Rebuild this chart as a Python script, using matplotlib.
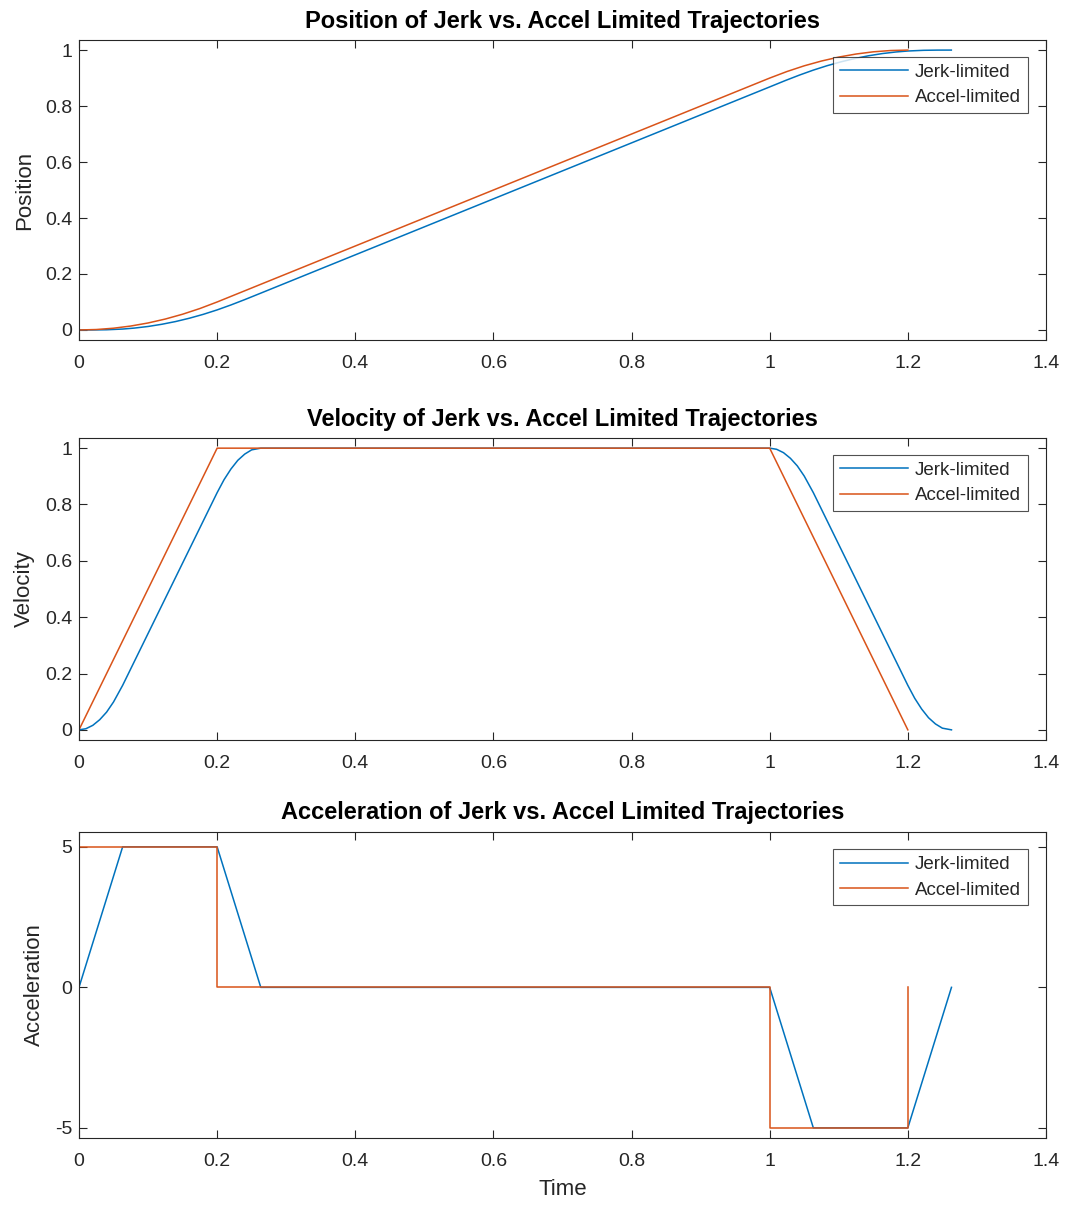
"""Jerk-limited vs accel-limited trajectory comparison (3 stacked plots)."""
import matplotlib; matplotlib.use("Agg")
import matplotlib.pyplot as plt

plt.rcParams["font.family"] = ["Liberation Sans", "DejaVu Sans"]

BLUE, ORANGE, AX = "#0072BD", "#D95319", "#262626"

# --- values ---
# jerk-limited
t_jp = [0, 0.02, 0.04, 0.0632, 0.08, 0.1, 0.12, 0.14, 0.16, 0.18, 0.2, 0.22,
        0.24, 0.2632, 1.0, 1.023, 1.043, 1.063, 1.083, 1.103, 1.123, 1.143,
        1.163, 1.183, 1.2, 1.223, 1.243, 1.263]
x_jp = [0, 0.0001, 0.0008, 0.0033, 0.0067, 0.0125, 0.0204, 0.0302, 0.0421,
        0.0559, 0.0717, 0.0894, 0.1085, 0.1316, 0.8684, 0.8915, 0.9106,
        0.9283, 0.9441, 0.9579, 0.9698, 0.9796, 0.9875, 0.9933, 0.9967,
        0.9992, 0.9999, 1.0]
t_jv = [0, 0.01, 0.02, 0.03, 0.04, 0.05, 0.0632, 0.2, 0.21, 0.22, 0.23,
        0.24, 0.25, 0.2632, 1.0, 1.01, 1.02, 1.03, 1.04, 1.05, 1.0632,
        1.2, 1.21, 1.22, 1.23, 1.24, 1.25, 1.2632]
v_jv = [0, 0.004, 0.016, 0.036, 0.063, 0.099, 0.158, 0.842, 0.888, 0.926,
        0.957, 0.979, 0.994, 1.0, 1.0, 0.996, 0.984, 0.964, 0.937, 0.901,
        0.842, 0.158, 0.112, 0.074, 0.043, 0.021, 0.006, 0]
t_ja = [0, 0.0632, 0.2, 0.2632, 1.0, 1.0632, 1.2, 1.2632]
a_ja = [0, 5, 5, 0, 0, -5, -5, 0]

# accel-limited
t_ap = [0, 0.025, 0.05, 0.075, 0.1, 0.125, 0.15, 0.175, 0.2, 1.0, 1.025,
        1.05, 1.075, 1.1, 1.125, 1.15, 1.175, 1.2]
x_ap = [0, 0.0016, 0.0063, 0.0141, 0.025, 0.0391, 0.0563, 0.0766, 0.1, 0.9,
        0.9234, 0.9438, 0.9609, 0.975, 0.9859, 0.9938, 0.9984, 1.0]
t_av = [0, 0.2, 1.0, 1.2]
v_av = [0, 1, 1, 0]
t_aa = [0, 0, 0.2, 0.2, 1.0, 1.0, 1.2, 1.2]
a_aa = [0, 5, 5, 0, 0, -5, -5, 0]

panels = [
    ("Position", (t_jp, x_jp), (t_ap, x_ap), (-0.036, 1.036), [0, 0.2, 0.4, 0.6, 0.8, 1],
     ["0", "0.2", "0.4", "0.6", "0.8", "1"], (0.0741, 0.7178, 0.9071, 0.249)),
    ("Velocity", (t_jv, v_jv), (t_av, v_av), (-0.036, 1.036), [0, 0.2, 0.4, 0.6, 0.8, 1],
     ["0", "0.2", "0.4", "0.6", "0.8", "1"], (0.0741, 0.3859, 0.9071, 0.2506)),
    ("Acceleration", (t_ja, a_ja), (t_aa, a_aa), (-5.36, 5.53), [-5, 0, 5],
     ["-5", "0", "5"], (0.0741, 0.0556, 0.9071, 0.254)),
]
xt = [0, 0.2, 0.4, 0.6, 0.8, 1, 1.2, 1.4]
xtl = ["0", "0.2", "0.4", "0.6", "0.8", "1", "1.2", "1.4"]

fig = plt.figure(figsize=(10.66, 12.05), dpi=100)
for name, jerk, acc, ylim, yt, ytl, rect in panels:
    ax = fig.add_axes(rect)
    ax.plot(*jerk, color=BLUE, lw=1.1, label="Jerk-limited")
    ax.plot(*acc, color=ORANGE, lw=1.1, label="Accel-limited")
    ax.set_xlim(0, 1.4); ax.set_ylim(*ylim)
    ax.set_xticks(xt, xtl); ax.set_yticks(yt, ytl)
    ax.tick_params(direction="in", top=True, right=True, length=6, width=0.8,
                   colors=AX, labelsize=14)
    ax.tick_params(axis="x", pad=11)
    ax.tick_params(axis="y", pad=5)
    for s in ax.spines.values():
        s.set_color(AX); s.set_linewidth(0.8)
    ax.set_ylabel(name, fontsize=16, color=AX, labelpad=7)
    ax.set_title(f"{name} of Jerk vs. Accel Limited Trajectories",
                 fontsize=17, fontweight="bold", color="black", pad=9)
    leg = ax.legend(loc="upper right", bbox_to_anchor=(0.981, 0.943), borderaxespad=0,
                    fancybox=False, edgecolor=AX, fontsize=13.5, handlelength=3.6,
                    labelspacing=0.45, borderpad=0.35, handletextpad=0.4)
    leg.get_frame().set_linewidth(0.8)
    for txt in leg.get_texts():
        txt.set_color(AX)
ax.set_xlabel("Time", fontsize=16, color=AX, labelpad=6)

fig.savefig("out.png", dpi=100)
